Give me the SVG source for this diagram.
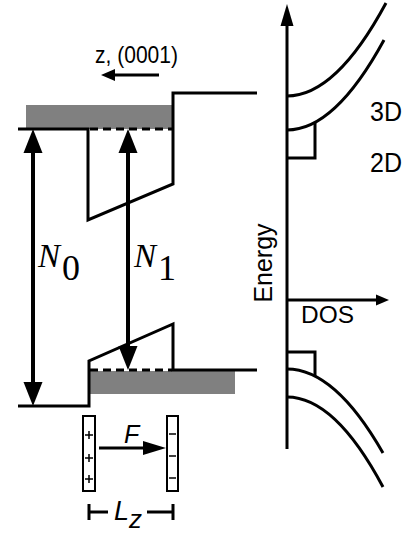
<svg xmlns="http://www.w3.org/2000/svg" width="407" height="533" viewBox="0 0 407 533">
<style>
.ln{fill:none;stroke:#000;stroke-width:3;stroke-linejoin:miter;stroke-linecap:butt}
.dash{fill:none;stroke:#000;stroke-width:3;stroke-dasharray:8 5}
.thin{fill:#fff;stroke:#000;stroke-width:2}
.sgn{fill:none;stroke:#000;stroke-width:1.5}
.gray{fill:#808080}
.ah{fill:#000}
.sans{font-family:"Liberation Sans",Arial,sans-serif;fill:#000}
.serif{font-family:"Liberation Serif","Times New Roman",serif;fill:#000}
</style>
<rect width="407" height="533" fill="#fff"/>

<g id="band-diagram">
  <rect class="gray" x="26" y="105" width="146" height="24"/>
  <rect class="gray" x="90" y="371" width="145" height="23"/>
  <path class="ln" d="M18,129 H88 V220 L173,184 V93 H257"/>
  <path class="dash" d="M90,129 H172"/>
  <path class="ln" d="M18,406 H89 V361 L173,324 V370 H257"/>
  <path class="dash" d="M90,370 H172"/>
</g>

<g id="dos-plot">
  <path class="ln" d="M287,449 V20"/>
  <polygon class="ah" points="287,4 280.5,26 293.5,26"/>
  <path class="ln" d="M287,300 H380"/>
  <polygon class="ah" points="389,300 376,294.5 376,305.5"/>
  <path class="ln" d="M287,96 Q336,96 386,3"/>
  <path class="ln" d="M287,130 Q335,130 384,40"/>
  <path class="ln" d="M287,158 H315 V122"/>
  <path class="ln" d="M287,352 H315 V376"/>
  <path class="ln" d="M287,369 Q335,369 383,453"/>
  <path class="ln" d="M287,397 Q335,397 383,487"/>
</g>

<g id="labels">
  <text class="sans" x="95" y="63" font-size="24" textLength="83" lengthAdjust="spacingAndGlyphs">z, (0001)</text>
  <text class="sans" x="370" y="121" font-size="27" textLength="32" lengthAdjust="spacingAndGlyphs">3D</text>
  <text class="sans" x="370" y="172" font-size="27" textLength="32" lengthAdjust="spacingAndGlyphs">2D</text>
  <text class="sans" x="301" y="323" font-size="24" textLength="53" lengthAdjust="spacingAndGlyphs">DOS</text>
  <text class="sans" font-size="25" text-anchor="middle" transform="translate(272,263) rotate(-90)">Energy</text>
  <text class="serif" x="38" y="267" font-size="33" font-style="italic">N</text>
  <text class="serif" x="62" y="280" font-size="36">0</text>
  <text class="serif" x="134" y="267" font-size="33" font-style="italic">N</text>
  <text class="serif" x="158" y="280" font-size="36">1</text>
  <text class="sans" x="124" y="443" font-size="25" font-style="italic">F</text>
  <text class="sans" x="114" y="520" font-size="27" font-style="italic">L</text>
  <text class="sans" x="129" y="528" font-size="26" font-style="italic">z</text>
</g>

<g id="field-plates">
  <rect class="thin" x="83" y="416" width="12" height="75"/>
  <path class="sgn" d="M85,435 h8 M89,431 v8 M85,458 h8 M89,454 v8 M85,479 h8 M89,475 v8"/>
  <rect class="thin" x="167" y="416" width="11" height="75"/>
  <path class="sgn" d="M169,434 h7 M169,456 h7 M169,478 h7"/>
</g>

<g id="connectors">
  <path class="ln" d="M159,75 H112"/>
  <polygon class="ah" points="101,75 115,69 115,81"/>
  <path fill="none" stroke="#000" stroke-width="4" d="M33,150 V385"/>
  <polygon class="ah" points="33,129 23.5,153 42.5,153"/>
  <polygon class="ah" points="33,406 23.5,382 42.5,382"/>
  <path fill="none" stroke="#000" stroke-width="4" d="M128,150 V350"/>
  <polygon class="ah" points="128,129 118.5,153 137.5,153"/>
  <polygon class="ah" points="128,370 118.5,346 137.5,346"/>
  <path class="ln" d="M99,448 H146"/>
  <polygon class="ah" points="166,448 143,441 143,455"/>
  <path class="ln" d="M89,504 V520 M89,512 H108 M147,512 H173 M173,504 V520"/>
</g>
</svg>
